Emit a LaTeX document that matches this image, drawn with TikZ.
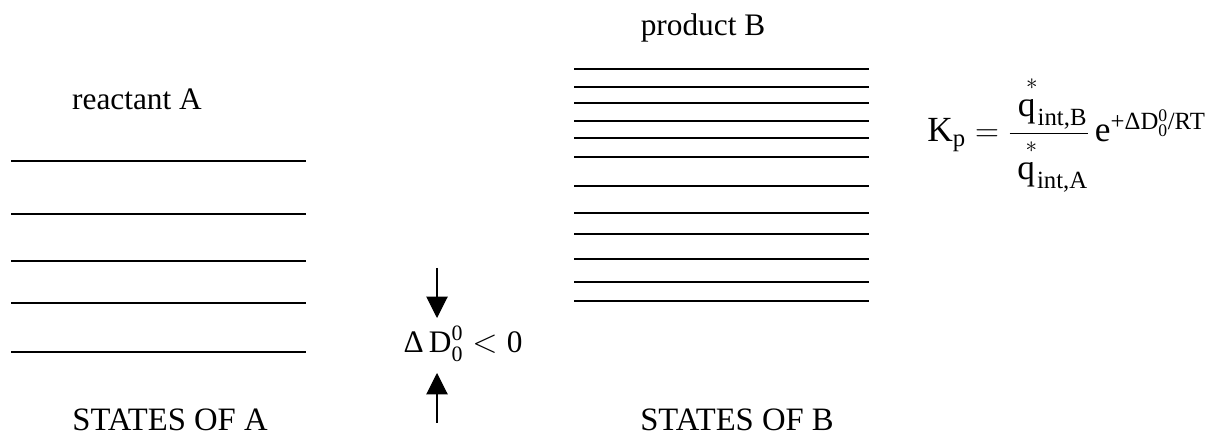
\documentclass[tikz,border=0pt]{standalone}
\usepackage{amsmath}
\usepackage{fontspec}
\setmainfont{Liberation Serif}
\usetikzlibrary{arrows.meta}
\newcommand{\qstar}{\overset{\mkern8mu *\rule[-5pt]{0pt}{0pt}}{\text{q}}}
\begin{document}
\begin{tikzpicture}[x=0.75pt,y=-0.75pt,
  level/.style={line width=1.5pt},
  gaparrow/.style={line width=0.8pt,-{Triangle[width=16pt,length=16pt]}},
  lbl/.style={font=\fontsize{23.5}{27}\selectfont,inner sep=0pt,anchor=base},
  caps/.style={font=\fontsize{24.5}{28}\selectfont,inner sep=0pt,anchor=base},
  eqn/.style={font=\fontsize{26.5}{32}\selectfont,inner sep=0pt,anchor=base west}]
\useasboundingbox (0,0) rectangle (1214,441);
% states of A
\foreach \y [count=\i] in {161,214,261,303,352}{
  \coordinate (a\i l) at (11,\y);
  \coordinate (a\i r) at (306,\y);
  \draw[level] (a\i l) -- (a\i r);
}
% states of B
\foreach \y [count=\i] in {69,87,103,121,138,157,186,213,234,259,282,301}{
  \coordinate (b\i l) at (574,\y);
  \coordinate (b\i r) at (869,\y);
  \draw[level] (b\i l) -- (b\i r);
}
\node[lbl] (reactA) at (137,110) {reactant A};
\node[lbl] (prodB) at (703,36) {product B};
\node[caps] (statesA) at (170,431) {STATES OF A};
\node[caps] (statesB) at (737,431) {STATES OF B};
\node[lbl] (dD) at (463,353) {$\text{Δ\,D}_{\text{0}}^{\text{0}}<\text{0}$};
\coordinate (t1) at (437,268);
\coordinate (t2) at (437,318);
\coordinate (u1) at (437,423);
\coordinate (u2) at (437,373);
\draw[gaparrow] (t1) -- (t2);
\draw[gaparrow] (u1) -- (u2);
\node[eqn] (eq) at (927,142) {$\text{K}_{\text{p}}=\dfrac{\,\qstar_{\text{int,B}}}{\,\qstar_{\text{int,A}}}\,\text{e}^{\text{+ΔD}_{\text{0}}^{\text{0}}\text{/RT}}$};
\end{tikzpicture}
\end{document}
